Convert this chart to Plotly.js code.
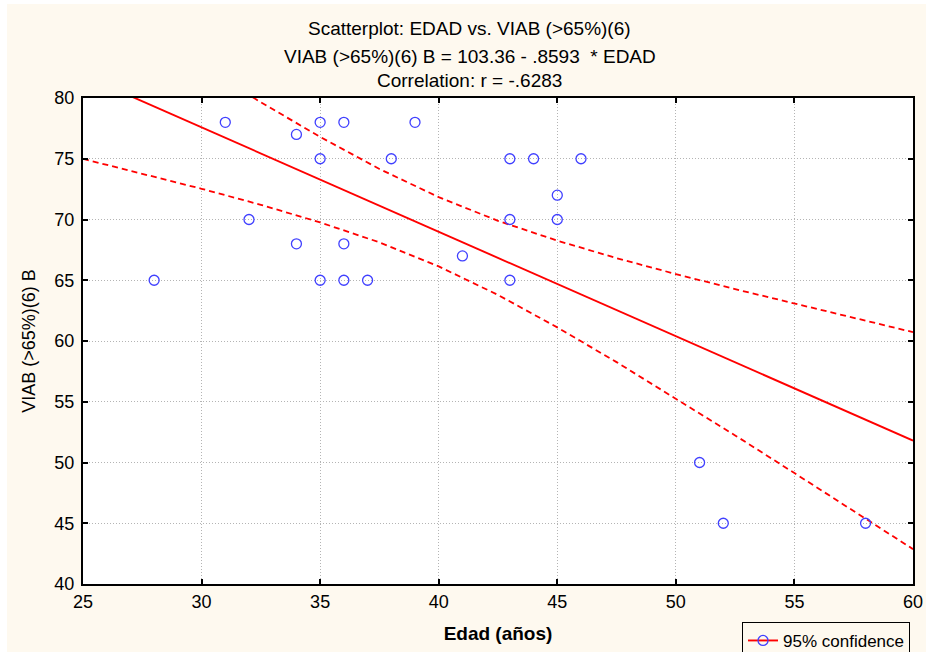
<!DOCTYPE html>
<html>
<head>
<meta charset="utf-8">
<script src="https://cdn.plot.ly/plotly-3.0.1.min.js"></script>
<style>
html,body{margin:0;padding:0;background:#ffffff;width:927px;height:654px;overflow:hidden;}
#chart{position:absolute;left:7px;top:4px;width:919px;height:648px;}
</style>
</head>
<body>
<div id="chart"></div>
<script>
// Observed data points (Edad, VIAB)
const edad = [28,31,32,34,34,35,35,35,36,36,36,37,38,39,41,43,43,43,44,45,45,46,51,52,58];
const viab = [65,78,70,77,68,78,75,65,78,68,65,65,75,78,67,75,70,65,75,72,70,75,50,45,45];

// Regression line endpoints (VIAB = 103.36 - .8593 * EDAD)
const regX = [25, 60];
const regY = [81.88, 51.80];

// 95% confidence bands
const bandX     = [25, 27.5, 30, 32.5, 35, 37.5, 40, 42.5, 45, 47.5, 50, 52.5, 55, 57.5, 60];
const bandUpper = [88.77, 85.68, 82.63, 79.65, 76.80, 74.16, 71.84, 69.89, 68.26, 66.82, 65.51, 64.27, 63.07, 61.89, 60.73];
const bandLower = [74.99, 73.78, 72.53, 71.21, 69.76, 68.12, 66.14, 63.79, 61.12, 58.26, 55.27, 52.23, 49.13, 46.01, 42.87];

const titleLines = [
  "Scatterplot: EDAD vs. VIAB (>65%)(6)",
  "VIAB (>65%)(6) B = 103.36 - .8593  * EDAD",
  "Correlation: r = -.6283"
];
const xTicks = [25,30,35,40,45,50,55,60];
const yTicks = [40,45,50,55,60,65,70,75,80];

const red = "#ff0000";
const blue = "#4040ff";
const cream = "#fef9ef";
const fam = "Liberation Sans, Arial, sans-serif";

const traces = [
  {x: bandX, y: bandUpper, mode: "lines", line: {color: red, width: 1.8, dash: "6px,4px"}, showlegend: false, hoverinfo: "skip"},
  {x: bandX, y: bandLower, mode: "lines", line: {color: red, width: 1.8, dash: "6px,4px"}, showlegend: false, hoverinfo: "skip"},
  {x: regX, y: regY, mode: "lines", line: {color: red, width: 1.9}, showlegend: false},
  {x: edad, y: viab, mode: "markers", marker: {symbol: "circle-open", size: 10, color: blue, line: {width: 1.3, color: blue}}, showlegend: false},
  {x: [null], y: [null], mode: "lines+markers", name: "95% confidence",
   line: {color: red, width: 1.9}, marker: {symbol: "circle-open", size: 10, color: blue, line: {width: 1.3, color: blue}}, showlegend: true}
];

const yPos = [1.142, 1.086, 1.037];
const annotations = titleLines.map((t, i) => ({
  text: t, xref: "paper", yref: "paper", x: 0.466, y: yPos[i],
  xanchor: "center", yanchor: "middle", showarrow: false,
  font: {family: fam, size: 19, color: "#000"}
}));

const axisCommon = {
  showline: true, linecolor: "#000", linewidth: 2, mirror: "ticks",
  ticks: "inside", ticklen: 5, tickwidth: 2, tickcolor: "#000",
  showgrid: true, gridcolor: "#b4b4b4", gridwidth: 1, griddash: "1px,2px",
  zeroline: false, tickfont: {family: fam, size: 18, color: "#000"}
};

const layout = {
  width: 919, height: 648,
  margin: {l: 76, r: 13, t: 94, b: 68, autoexpand: false},
  paper_bgcolor: cream, plot_bgcolor: "#ffffff",
  xaxis: Object.assign({}, axisCommon, {
    range: [25, 60], tickvals: xTicks, ticktext: xTicks.map(String),
    title: {text: "<b>Edad (años)</b>", font: {family: fam, size: 19, color: "#000"}, standoff: 16}
  }),
  yaxis: Object.assign({}, axisCommon, {
    range: [40, 80], tickvals: yTicks, ticktext: yTicks.map(String),
    ticklabelstandoff: 3,
    title: {text: "VIAB (>65%)(6) B", font: {family: fam, size: 18, color: "#000"}, standoff: 14}
  }),
  annotations: annotations,
  showlegend: true,
  legend: {
    x: 0.794, y: -0.078, xanchor: "left", yanchor: "top",
    bgcolor: cream, bordercolor: "#000", borderwidth: 1,
    font: {family: fam, size: 17, color: "#000"},
    tracegroupgap: 0, itemwidth: 30
  }
};

Plotly.newPlot("chart", traces, layout, {displayModeBar: false, staticPlot: true});
</script>
</body>
</html>
